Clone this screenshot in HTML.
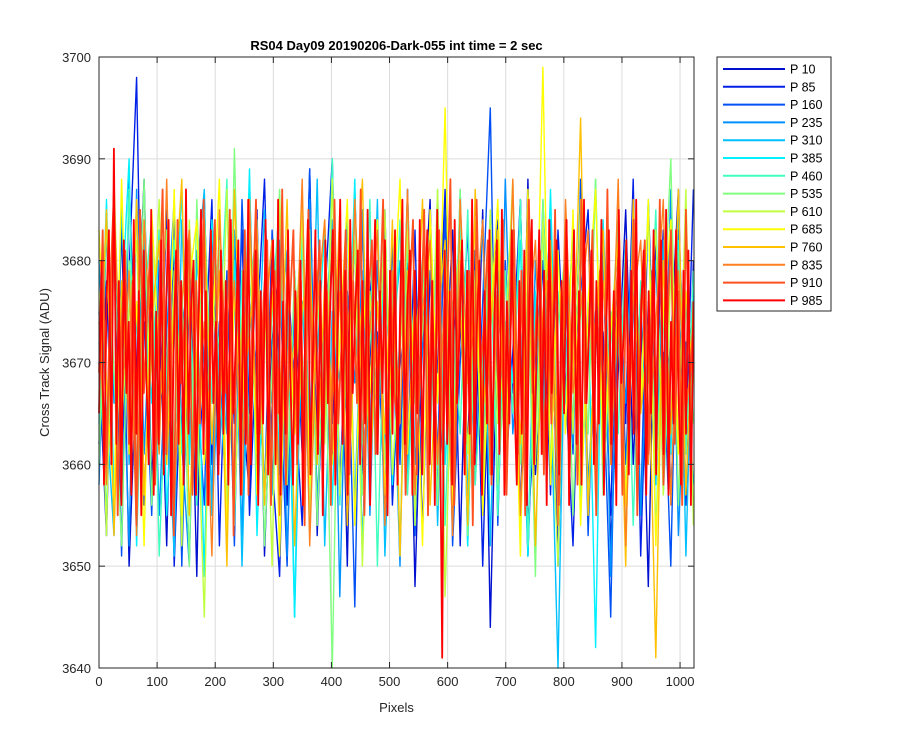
<!DOCTYPE html>
<html><head><meta charset="utf-8"><style>
body{margin:0;background:#fff;}
svg{display:block;font-family:"Liberation Sans",sans-serif;}
</style></head><body>
<svg id="chart" width="900" height="750" xmlns="http://www.w3.org/2000/svg"></svg>
<script>
const seriesNames=["P 10","P 85","P 160","P 235","P 310","P 385","P 460","P 535","P 610","P 685","P 760","P 835","P 910","P 985"];
const seriesColors=["#0010d0","#0020e8","#0050f5","#0090ff","#00c0ff","#00f0ff","#40ffc0","#80ff80","#c0ff40","#ffff00","#ffc000","#ff8020","#ff5020","#ff0000"];
const xTicks=[0,100,200,300,400,500,600,700,800,900,1000];
const yTicks=[3640,3650,3660,3670,3680,3690,3700];
const s0=[3662,3678,3655,3684,3650,3670,3688,3658,3676,3652,3682,3663,3679,3649,3686,3660,3674,3655,3683,3666,3657,3685,3651,3672,3680,3656,3678,3661,3689,3653,3675,3664,3682,3650,3687,3659,3670,3684,3655,3677,3662,3681,3648,3673,3686,3657,3668,3683,3652,3679,3661,3685,3644,3676,3666,3682,3654,3688,3659,3671,3684,3650,3678,3663,3686,3656,3674,3681,3652,3669,3685,3660,3677,3648,3683,3664,3672,3687,3656,3680];
const s1=[3670,3653,3684,3661,3679,3698,3656,3675,3663,3685,3650,3672,3681,3658,3669,3686,3652,3677,3664,3683,3655,3673,3688,3660,3649,3680,3667,3654,3684,3662,3676,3690,3657,3670,3682,3651,3678,3665,3685,3656,3672,3660,3683,3653,3679,3669,3687,3655,3674,3662,3681,3650,3676,3684,3658,3671,3686,3654,3665,3680,3657,3683,3668,3652,3677,3685,3661,3673,3655,3682,3664,3688,3651,3676,3668,3683,3657,3675,3662,3687];
const s2=[3675,3660,3682,3651,3688,3666,3674,3655,3680,3663,3685,3650,3677,3668,3656,3684,3661,3679,3652,3686,3665,3672,3657,3683,3669,3650,3678,3662,3689,3655,3670,3681,3658,3676,3646,3684,3664,3673,3656,3682,3660,3687,3653,3674,3679,3661,3685,3652,3670,3683,3658,3676,3695,3654,3680,3667,3686,3651,3672,3663,3684,3656,3678,3661,3688,3653,3675,3669,3645,3682,3660,3677,3655,3686,3664,3671,3650,3683,3668,3676];
const s3=[3658,3683,3666,3676,3652,3687,3661,3679,3655,3673,3686,3662,3650,3681,3670,3657,3684,3664,3677,3653,3688,3659,3675,3666,3682,3651,3679,3663,3686,3656,3672,3684,3647,3677,3668,3685,3655,3680,3662,3674,3650,3687,3660,3671,3683,3657,3676,3665,3685,3652,3678,3661,3682,3656,3688,3663,3673,3651,3680,3667,3684,3654,3676,3662,3686,3658,3671,3683,3649,3677,3666,3685,3655,3674,3680,3660,3687,3653,3672,3669];
const s4=[3680,3665,3653,3686,3660,3674,3682,3656,3677,3668,3651,3684,3662,3679,3687,3655,3670,3663,3683,3650,3676,3666,3685,3657,3673,3681,3645,3676,3661,3688,3652,3675,3668,3684,3656,3679,3663,3686,3651,3672,3680,3659,3675,3665,3683,3654,3677,3662,3687,3657,3671,3684,3652,3679,3666,3682,3655,3674,3661,3686,3668,3640,3678,3664,3685,3655,3673,3681,3660,3676,3652,3684,3667,3674,3658,3682,3663,3686,3651,3677];
const s5=[3664,3686,3657,3675,3690,3652,3678,3666,3683,3655,3672,3687,3660,3677,3649,3684,3668,3656,3680,3664,3689,3653,3674,3682,3659,3676,3645,3685,3662,3671,3683,3656,3679,3667,3688,3651,3675,3661,3684,3658,3673,3681,3654,3677,3666,3686,3660,3672,3684,3652,3678,3663,3685,3656,3674,3668,3682,3651,3677,3662,3687,3659,3670,3683,3655,3676,3642,3684,3664,3673,3657,3680,3666,3686,3653,3675,3661,3682,3669,3658];
const s6=[3672,3655,3681,3663,3687,3658,3676,3684,3651,3670,3682,3661,3678,3656,3685,3666,3673,3688,3654,3679,3662,3683,3657,3675,3686,3660,3670,3682,3653,3677,3664,3690,3656,3673,3681,3662,3686,3650,3678,3667,3684,3657,3672,3680,3661,3687,3654,3676,3663,3685,3658,3671,3682,3655,3679,3665,3686,3652,3674,3683,3660,3677,3666,3684,3656,3672,3688,3659,3675,3663,3682,3654,3678,3668,3685,3657,3673,3681,3661,3679];
const s7=[3660,3684,3669,3652,3680,3666,3688,3656,3674,3683,3661,3678,3650,3686,3664,3673,3682,3655,3691,3662,3676,3684,3652,3670,3687,3658,3679,3665,3683,3654,3675,3640,3681,3663,3686,3657,3672,3684,3660,3677,3651,3685,3666,3673,3682,3656,3679,3662,3687,3653,3676,3668,3684,3658,3671,3683,3660,3678,3649,3686,3665,3674,3681,3655,3677,3663,3688,3657,3672,3684,3652,3679,3666,3685,3659,3674,3690,3656,3676,3664];
const s8=[3677,3653,3688,3664,3675,3682,3657,3671,3686,3660,3679,3652,3684,3668,3645,3680,3663,3687,3656,3674,3683,3661,3677,3650,3686,3666,3672,3684,3655,3679,3662,3688,3657,3673,3682,3650,3677,3665,3685,3659,3671,3683,3654,3678,3666,3687,3647,3674,3682,3661,3679,3656,3685,3664,3672,3688,3653,3677,3660,3684,3668,3650,3681,3663,3686,3656,3674,3682,3660,3677,3652,3685,3666,3673,3683,3657,3679,3662,3687,3654];
const s9=[3683,3668,3656,3688,3661,3676,3652,3685,3670,3663,3687,3655,3678,3684,3660,3672,3688,3653,3677,3665,3686,3657,3674,3682,3651,3679,3663,3687,3658,3675,3684,3660,3672,3686,3654,3678,3667,3684,3657,3673,3688,3661,3677,3652,3685,3666,3695,3656,3680,3668,3684,3655,3674,3686,3662,3678,3651,3687,3666,3699,3658,3681,3663,3685,3654,3676,3687,3660,3673,3682,3656,3679,3665,3686,3652,3675,3684,3661,3677,3668];
const s10=[3667,3685,3653,3678,3663,3686,3657,3674,3682,3660,3676,3688,3655,3671,3684,3662,3679,3650,3687,3666,3673,3683,3656,3677,3664,3686,3652,3675,3681,3660,3678,3666,3685,3654,3673,3688,3658,3676,3663,3684,3651,3679,3668,3686,3656,3674,3682,3661,3677,3654,3687,3665,3673,3683,3658,3679,3662,3686,3652,3675,3682,3660,3678,3668,3694,3655,3674,3683,3661,3677,3650,3686,3665,3673,3641,3680,3663,3687,3657,3676];
const s11=[3674,3658,3686,3665,3679,3653,3684,3670,3661,3688,3656,3676,3683,3662,3674,3651,3685,3667,3678,3657,3686,3663,3673,3682,3655,3679,3666,3688,3652,3675,3684,3661,3677,3656,3686,3668,3673,3683,3654,3679,3664,3687,3657,3675,3682,3660,3678,3653,3686,3669,3674,3684,3659,3677,3663,3688,3655,3673,3682,3661,3679,3654,3686,3667,3675,3683,3657,3678,3664,3688,3652,3676,3682,3660,3674,3686,3656,3679,3665,3672];
const s12=[3669,3683,3660,3677,3687,3655,3673,3681,3662,3678,3654,3685,3667,3676,3683,3658,3674,3687,3661,3679,3653,3684,3668,3675,3682,3657,3678,3664,3686,3656,3673,3684,3660,3677,3667,3685,3653,3679,3662,3683,3657,3674,3686,3663,3676,3682,3656,3679,3665,3687,3658,3675,3683,3660,3678,3654,3685,3668,3674,3682,3661,3677,3656,3686,3664,3673,3683,3659,3678,3666,3687,3655,3676,3682,3661,3674,3686,3658,3679,3667,
3663,3680,3657,3676,3684,3659,3672,3685,3655,3678,3666,3683,3660,3675,3688,3656,3673,3681,3662,3679,3654,3686,3669,3674,3682,3658,3677,3665,3684,3657,3672,3683,3661,3679,3655,3686,3667,3675,3681,3659,3678,3664,3685,3656,3673,3684,3662,3677,3658,3686,3666,3672,3683,3655,3679,3663,3687,3660,3674,3681,3657,3678,3667,3684,3655,3676,3682,3661,3679,3664,3686,3658,3673,3683,3662,3677,3656,3685,3668,3674];
const s13=[3665,3680,3658,3676,3683,3660,3691,3662,3678,3656,3682,3667,3674,3657,3684,3663,3677,3655,3681,3669,
3660,3685,3657,3675,3662,3682,3659,3676,3684,3655,3671,3681,3662,3678,3658,3687,3663,3675,3680,3657,
3674,3685,3661,3677,3656,3683,3666,3674,3659,3681,3663,3678,3658,3684,3665,3672,3682,3657,3679,3662,
3686,3660,3673,3681,3656,3677,3664,3684,3659,3675,3682,3660,3686,3657,3676,3663,3683,3668,3658,3677,
3662,3680,3656,3675,3684,3659,3671,3683,3661,3678,3655,3682,3666,3676,3683,3658,3674,3686,3662,3679,
3657,3684,3667,3675,3681,3660,3678,3664,3685,3656,3673,3684,3661,3677,3667,3682,3655,3679,3663,3683,
3658,3674,3686,3662,3676,3681,3657,3679,3665,3684,3659,3675,3683,3660,3678,3656,3685,3668,3641,3681,
3662,3677,3658,3684,3666,3673,3682,3659,3679,3663,3686,3660,3674,3680,3657,3677,3664,3683,3659,3675,
3682,3661,3685,3657,3676,3664,3683,3667,3658,3678,3663,3681,3656,3676,3684,3660,3672,3683,3661,3679,
3656,3684,3667,3675,3682,3659,3678,3665,3684,3656,3672,3683,3662,3677,3658,3686,3666,3673,3681,3660,
3678,3664,3684,3657,3674,3683,3662,3677,3656,3685,3668,3673,3682,3659,3679,3663,3686,3660,3675,3681,
3657,3677,3665,3683,3659,3676,3682,3661,3685,3657,3674,3664,3683,3667,3658,3679,3663,3681,3656,3676];
const seriesValues=[s0,s1,s2,s3,s4,s5,s6,s7,s8,s9,s10,s11,s12,s13];

const NS="http://www.w3.org/2000/svg";
const svg=document.getElementById('chart');
const L=99,R=694,T=57,B=668,XMAX=1024,YMIN=3640,YMAX=3700;
const xs=v=>L+(v/XMAX)*(R-L);
const ys=v=>B-(v-YMIN)/(YMAX-YMIN)*(B-T);
function mk(tag,attrs,parent){const e=document.createElementNS(NS,tag);for(const k in attrs)e.setAttribute(k,attrs[k]);(parent||svg).appendChild(e);return e;}

const bg=mk('rect',{x:L,y:T,width:R-L,height:B-T,fill:'#fff'});


const grid=mk('g',{});


xTicks.forEach(t=>{mk('line',{x1:xs(t),x2:xs(t),y1:T,y2:B,stroke:'#dcdcdc','stroke-width':1},grid);});
yTicks.forEach(t=>{mk('line',{x1:L,x2:R,y1:ys(t),y2:ys(t),stroke:'#dcdcdc','stroke-width':1},grid);});

const sg=mk('g',{});


seriesValues.forEach((arr,si)=>{
  const n=arr.length;
  const pts=arr.map((v,i)=>xs(i*(XMAX-1)/(n-1)).toFixed(1)+','+ys(v).toFixed(1)).join(' ');
  const w=si>=12?1.8:1.4;
  const p=mk('polyline',{points:pts,fill:'none',stroke:seriesColors[si],'stroke-width':w,'stroke-linejoin':'round'},sg);
  
  
});

const ax=mk('rect',{x:L,y:T,width:R-L,height:B-T,fill:'none',stroke:'#262626','stroke-width':1});


xTicks.forEach(t=>{
  mk('line',{x1:xs(t),x2:xs(t),y1:B,y2:B-6,stroke:'#262626'});
  mk('line',{x1:xs(t),x2:xs(t),y1:T,y2:T+6,stroke:'#262626'});
  const tx=mk('text',{x:xs(t),y:B+18,'text-anchor':'middle','font-size':13,fill:'#262626'});
  tx.textContent=t;
  
  
});
yTicks.forEach(t=>{
  mk('line',{x1:L,x2:L+6,y1:ys(t),y2:ys(t),stroke:'#262626'});
  mk('line',{x1:R,x2:R-6,y1:ys(t),y2:ys(t),stroke:'#262626'});
  const tx=mk('text',{x:L-8,y:ys(t)+5,'text-anchor':'end','font-size':13,fill:'#262626'});
  tx.textContent=t;
  
  
});
const title=mk('text',{x:(L+R)/2,y:50,'text-anchor':'middle','font-size':13,'font-weight':'bold',fill:'#000'});
title.textContent='RS04 Day09 20190206-Dark-055 int time = 2 sec';


const xl=mk('text',{x:(L+R)/2,y:712,'text-anchor':'middle','font-size':13,fill:'#262626'});
xl.textContent='Pixels';


const yl=mk('text',{x:0,y:0,'text-anchor':'middle','font-size':13,fill:'#262626',transform:'translate(49,'+((T+B)/2)+') rotate(-90)'});
yl.textContent='Cross Track Signal (ADU)';



const lg=mk('g',{});


mk('rect',{x:717,y:57,width:114,height:254,fill:'#fff',stroke:'#262626'},lg);
seriesNames.forEach((nm,i)=>{
  const y=69+i*17.8;
  const e=mk('g',{},lg);
  
  
  mk('line',{x1:723,x2:785,y1:y,y2:y,stroke:seriesColors[i],'stroke-width':2},e);
  const t=mk('text',{x:790,y:y+4.5,'font-size':12.5,fill:'#000'},e);
  t.textContent=nm;
});
</script>
</body></html>
